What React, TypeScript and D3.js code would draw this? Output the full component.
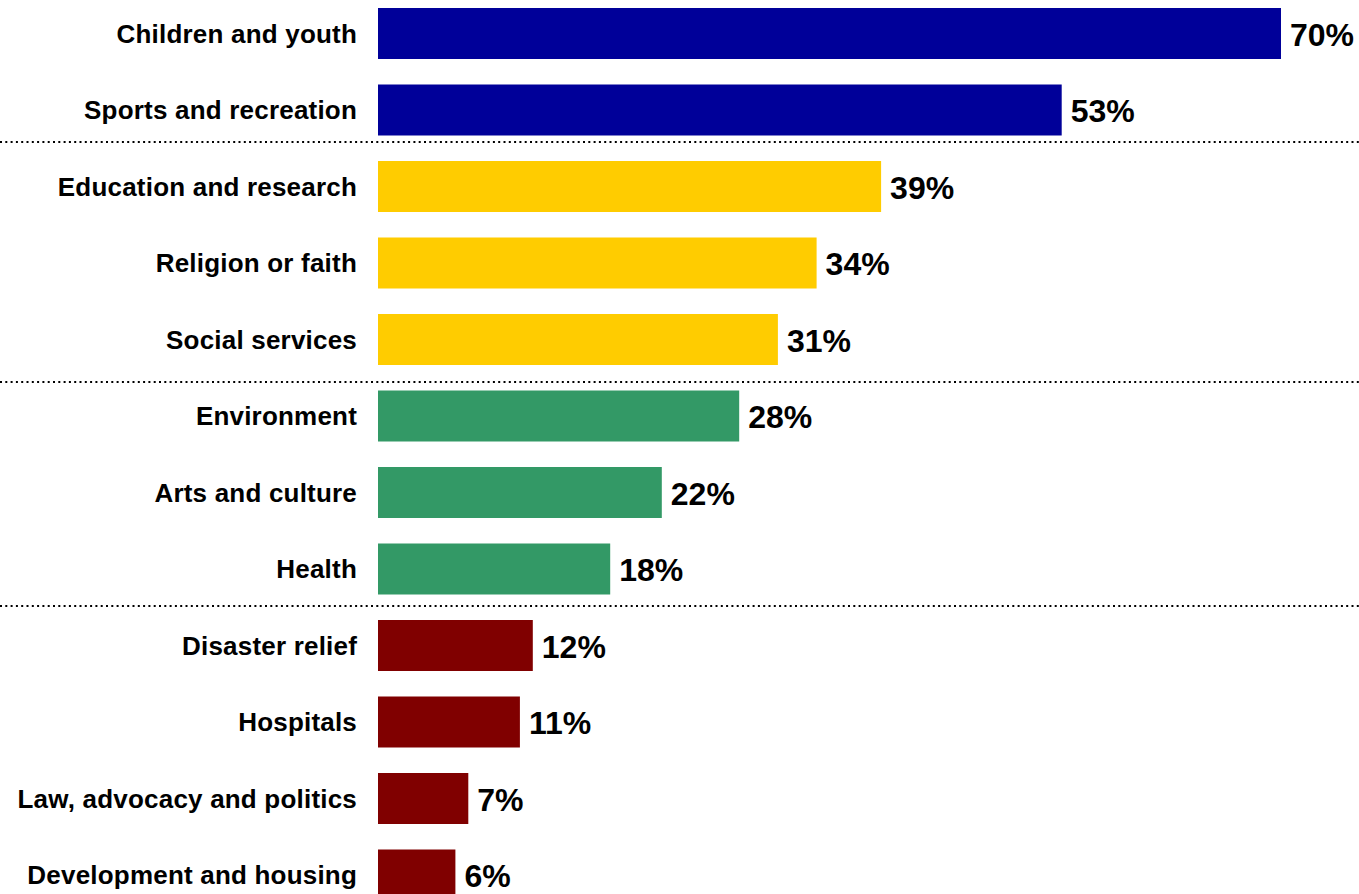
import React from "react";
import * as d3 from "d3";

const categories = [
  "Children and youth",
  "Sports and recreation",
  "Education and research",
  "Religion or faith",
  "Social services",
  "Environment",
  "Arts and culture",
  "Health",
  "Disaster relief",
  "Hospitals",
  "Law, advocacy and politics",
  "Development and housing",
];
const values = [70, 53, 39, 34, 31, 28, 22, 18, 12, 11, 7, 6];
const groups = [0, 0, 1, 1, 1, 2, 2, 2, 3, 3, 3, 3];
const groupColors = ["#000099", "#FFCC00", "#339966", "#800000"];
const separatorsAfter = [1, 4, 7];

const W = 1359;
const H = 894;
// fraction of the gap between bars at which each separator sits
const sepFrac = [0.24, 0.66, 0.44];

export default function App() {
  const x = d3.scaleLinear().domain([0, 70]).range([378, 1281]);
  const step = 76.5;
  const y = d3
    .scaleBand<string>()
    .domain(categories)
    .range([8 - step / 6, 8 - step / 6 + step * categories.length])
    .paddingInner(1 / 3)
    .paddingOuter(1 / 6);
  const bw = y.bandwidth();

  return (
    <svg
      width={W}
      height={H}
      style={{ position: "absolute", left: 0, top: 0, background: "#fff" }}
      fontFamily="'Liberation Sans', Arial, sans-serif"
      fontWeight="bold"
    >
      {separatorsAfter.map((i, k) => {
        const b = (y(categories[i]) as number) + bw;
        const t = y(categories[i + 1]) as number;
        const yy = Math.round(b + (t - b) * sepFrac[k]);
        return (
          <line
            key={i}
            x1={0}
            x2={W}
            y1={yy}
            y2={yy}
            stroke="#000"
            strokeWidth={2}
            strokeDasharray="2 3.3"
          />
        );
      })}
      {categories.map((c, i) => {
        const yy = y(c) as number;
        return (
          <g key={c}>
            <rect
              x={x(0)}
              y={yy}
              width={x(values[i]) - x(0)}
              height={bw}
              fill={groupColors[groups[i]]}
            />
            <text
              x={357}
              y={yy + bw / 2}
              textAnchor="end"
              dominantBaseline="central"
              fontSize={26}
              letterSpacing={0.2}
              fill="#000"
            >
              {c}
            </text>
            <text
              x={x(values[i]) + 9}
              y={yy + bw / 2 + 1}
              dominantBaseline="central"
              fontSize={32}
              fill="#000"
            >
              {values[i] + "%"}
            </text>
          </g>
        );
      })}
    </svg>
  );
}
